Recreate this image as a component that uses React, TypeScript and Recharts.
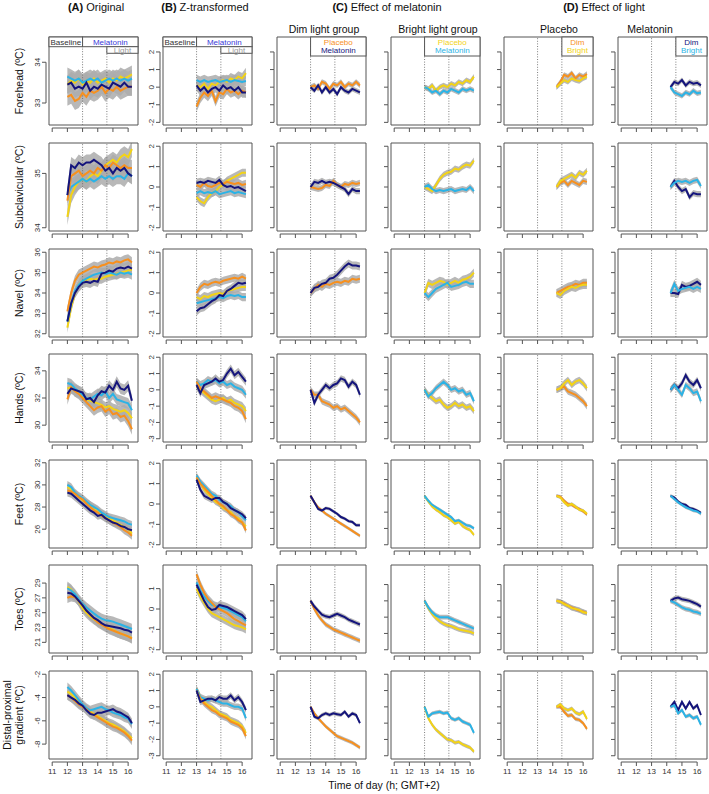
import React from 'react';
import { ComposedChart, Line, Area, XAxis, YAxis, ReferenceLine, ReferenceArea } from 'recharts';

// ---------- time axes ----------
const timesA = [12, 12.25, 12.5, 12.75, 13, 13.25, 13.5, 13.75, 14, 14.25, 14.5, 14.75, 15, 15.25, 15.5, 15.75, 16, 16.25];
const timesZ = [13, 13.25, 13.5, 13.75, 14, 14.25, 14.5, 14.75, 15, 15.25, 15.5, 15.75, 16, 16.25];
const timesD = [14.25, 14.5, 14.75, 15, 15.25, 15.5, 15.75, 16, 16.25];
const xTicks = [11, 12, 13, 14, 15, 16];
const phaseLines = [13, 14.6];

// ---------- Forehead ----------
const fhA_dp = [33.15, 33.2, 33.05, 33.1, 33.25, 33.15, 33.3, 33.25, 33.3, 33.4, 33.25, 33.35, 33.3, 33.4, 33.3, 33.35, 33.4, 33.4];
const fhA_dm = [33.45, 33.5, 33.35, 33.4, 33.35, 33.5, 33.3, 33.4, 33.35, 33.45, 33.4, 33.35, 33.5, 33.45, 33.4, 33.5, 33.4, 33.4];
const fhA_bp = [33.45, 33.55, 33.5, 33.6, 33.45, 33.55, 33.5, 33.6, 33.5, 33.55, 33.6, 33.5, 33.6, 33.55, 33.65, 33.6, 33.65, 33.7];
const fhA_bm = [33.65, 33.6, 33.55, 33.6, 33.5, 33.55, 33.6, 33.55, 33.6, 33.5, 33.55, 33.6, 33.55, 33.6, 33.55, 33.6, 33.55, 33.6];
const fhB_dp = [-1.1, -0.6, -0.3, -0.5, -0.2, -0.8, -0.3, -0.4, -0.1, -0.3, -0.2, -0.4, -0.2, -0.3];
const fhB_dm = [0.1, -0.2, 0.0, -0.3, -0.1, 0.0, -0.2, 0.1, -0.1, 0.0, -0.2, 0.0, -0.3, -0.3];
const fhB_bp = [0.1, 0.0, 0.2, -0.1, 0.2, 0.1, 0.3, 0.4, 0.3, 0.5, 0.4, 0.6, 0.5, 0.8];
const fhB_bm = [0.4, 0.3, 0.4, 0.3, 0.35, 0.4, 0.3, 0.35, 0.4, 0.3, 0.4, 0.35, 0.3, 0.35];
const fhC_dp = [0, 0.1, -0.1, 0.3, 0.2, -0.1, 0.2, 0.1, 0.3, 0.0, 0.2, 0.1, 0.3, 0.1];
const fhC_dm = [0, -0.2, 0.1, -0.3, 0.0, -0.3, -0.1, -0.4, 0.0, -0.2, -0.3, -0.1, -0.2, -0.3];
const fhC_bp = [0, -0.1, 0.1, -0.2, 0.0, 0.1, 0.0, 0.2, 0.1, 0.3, 0.2, 0.4, 0.3, 0.6];
const fhC_bm = [0, -0.1, -0.3, -0.2, -0.4, -0.2, -0.3, -0.1, -0.2, -0.3, -0.1, -0.2, -0.1, -0.2];
const fhD_dp = [0, 0.3, 0.7, 0.6, 0.8, 0.5, 0.7, 0.6, 0.75];
const fhD_bp = [0, 0.2, 0.4, 0.3, 0.5, 0.4, 0.35, 0.5, 0.6];
const fhD_dm = [0, 0.3, 0.2, 0.4, 0.1, 0.3, 0.2, 0.25, 0.1];
const fhD_bm = [0, -0.3, -0.4, -0.5, -0.3, -0.4, -0.2, -0.35, -0.3];

// ---------- Subclavicular ----------
const scA_dp = [34.5, 34.95, 35.0, 35.05, 34.95, 35.0, 35.05, 35.0, 35.1, 35.05, 35.15, 35.1, 35.2, 35.15, 35.1, 35.15, 35.1, 35.1];
const scA_dm = [34.6, 35.15, 35.1, 35.2, 35.15, 35.2, 35.2, 35.25, 35.2, 35.15, 35.05, 35.1, 35.0, 35.1, 35.05, 35.1, 35.0, 34.95];
const scA_bp = [34.2, 34.6, 34.75, 34.85, 34.9, 34.85, 34.95, 35.0, 34.95, 35.05, 35.15, 35.2, 35.25, 35.2, 35.3, 35.35, 35.3, 35.45];
const scA_bm = [34.6, 34.75, 34.8, 34.85, 34.9, 34.85, 34.9, 34.85, 34.9, 34.95, 34.9, 34.95, 34.9, 34.95, 34.95, 34.9, 35.0, 34.95];
const scB_dp = [0.1, 0.0, 0.2, 0.05, 0.0, 0.1, 0.2, 0.15, 0.25, 0.2, 0.15, 0.2, 0.1, 0.15];
const scB_dm = [0.2, 0.25, 0.2, 0.3, 0.25, 0.2, 0.35, 0.1, 0.0, 0.05, -0.05, 0.0, -0.1, -0.2];
const scB_bp = [-0.5, -0.7, -0.8, -0.5, -0.3, -0.2, 0.0, 0.1, 0.3, 0.4, 0.5, 0.6, 0.7, 0.7];
const scB_bm = [-0.3, -0.2, -0.3, -0.25, -0.3, -0.2, -0.35, -0.3, -0.25, -0.2, -0.3, -0.25, -0.3, -0.35];
const scC_dp = [0, -0.05, -0.1, -0.05, 0.1, 0.05, 0.3, 0.1, 0.0, 0.15, 0.1, 0.2, 0.15, 0.2];
const scC_dm = [0, 0.25, 0.2, 0.3, 0.2, 0.25, 0.2, 0.1, 0.0, -0.1, -0.35, -0.1, -0.2, -0.2];
const scC_bp = [0, -0.1, -0.2, 0.1, 0.4, 0.6, 0.7, 0.75, 0.9, 0.85, 1.0, 1.1, 1.05, 1.3];
const scC_bm = [0, 0.1, -0.1, -0.2, -0.15, -0.2, -0.15, -0.1, -0.2, -0.15, -0.1, -0.15, 0.0, -0.2];
const scD_dp = [0, 0.2, 0.3, 0.1, 0.3, 0.2, 0.1, 0.3, 0.25];
const scD_bp = [0, 0.3, 0.4, 0.5, 0.6, 0.45, 0.7, 0.6, 0.8];
const scD_dm = [0, 0.3, 0.0, -0.2, -0.1, -0.5, -0.3, -0.35, -0.35];
const scD_bm = [0, 0.2, 0.3, 0.25, 0.3, 0.2, 0.3, 0.35, 0.05];

// ---------- Navel ----------
const nvA_dp = [33.1, 34.0, 34.6, 34.9, 35.0, 35.1, 35.2, 35.3, 35.25, 35.35, 35.4, 35.5, 35.45, 35.55, 35.5, 35.6, 35.65, 35.5];
const nvA_dm = [32.6, 33.5, 34.0, 34.3, 34.5, 34.55, 34.5, 34.6, 34.55, 34.95, 35.0, 35.1, 35.05, 35.2, 35.25, 35.2, 35.3, 35.2];
const nvA_bp = [32.3, 33.3, 34.0, 34.4, 34.6, 34.65, 34.7, 34.65, 34.7, 34.7, 34.8, 34.85, 34.9, 34.95, 35.0, 35.05, 35.1, 35.15];
const nvA_bm = [32.6, 33.5, 34.1, 34.4, 34.6, 34.7, 34.8, 34.9, 34.95, 35.0, 34.95, 35.0, 34.95, 34.9, 35.0, 34.95, 35.0, 34.9];
const nvB_dp = [0.0, 0.3, 0.45, 0.4, 0.5, 0.55, 0.5, 0.6, 0.65, 0.7, 0.75, 0.7, 0.8, 0.7];
const nvB_dm = [-0.9, -0.75, -0.7, -0.55, -0.4, -0.3, -0.1, -0.15, 0.1, 0.2, 0.35, 0.5, 0.45, 0.5];
const nvB_bp = [-0.2, -0.3, -0.15, -0.2, -0.1, -0.05, 0.0, -0.05, 0.1, 0.15, 0.2, 0.25, 0.3, 0.3];
const nvB_bm = [-0.5, -0.45, -0.4, -0.35, -0.3, -0.25, -0.2, -0.25, -0.15, -0.1, -0.15, -0.1, -0.2, -0.2];
const nvC_dp = [0, 0.2, 0.4, 0.3, 0.45, 0.4, 0.5, 0.55, 0.5, 0.6, 0.55, 0.7, 0.65, 0.7];
const nvC_dm = [0, 0.25, 0.3, 0.45, 0.5, 0.7, 0.75, 0.9, 1.1, 1.3, 1.45, 1.35, 1.35, 1.3];
const nvC_bp = [0, 0.5, 0.4, 0.5, 0.6, 0.55, 0.4, 0.5, 0.6, 0.5, 0.65, 0.7, 0.8, 1.0];
const nvC_bm = [0, -0.2, 0.0, 0.2, 0.3, 0.4, 0.5, 0.3, 0.35, 0.4, 0.5, 0.55, 0.45, 0.45];
const nvD_dp = [0, 0.1, 0.2, 0.3, 0.35, 0.45, 0.4, 0.5, 0.5];
const nvD_bp = [0, -0.1, 0.1, 0.2, 0.3, 0.25, 0.35, 0.4, 0.4];
const nvD_dm = [0, 0.0, -0.05, 0.4, 0.3, 0.35, 0.45, 0.55, 0.4];
const nvD_bm = [0, 0.45, 0.1, 0.2, 0.25, 0.3, 0.2, 0.3, 0.2];

// ---------- Hands ----------
const hdA_dp = [31.9, 32.8, 32.5, 32.3, 32.0, 31.7, 31.4, 31.1, 31.3, 31.4, 31.0, 31.2, 30.8, 30.9, 30.6, 30.7, 30.3, 29.7];
const hdA_dm = [32.3, 32.7, 32.6, 32.5, 32.4, 31.9, 32.0, 31.7, 32.2, 32.5, 32.4, 32.9, 32.6, 33.2, 32.7, 32.6, 32.9, 31.8];
const hdA_bp = [32.7, 32.8, 32.5, 32.4, 32.2, 31.9, 31.8, 31.7, 31.6, 31.5, 31.3, 31.4, 31.2, 31.1, 31.0, 31.1, 30.9, 30.5];
const hdA_bm = [33.1, 33.0, 32.7, 32.5, 32.2, 32.0, 31.9, 32.1, 32.3, 32.2, 32.5, 32.0, 32.3, 31.9, 31.8, 31.7, 31.6, 31.1];
const hdB_dp = [0.5, 0.1, -0.1, -0.3, -0.5, -0.4, -0.5, -0.6, -0.7, -0.8, -1.0, -1.1, -1.3, -1.8];
const hdB_dm = [0.3, -0.2, 0.3, 0.4, 0.5, 0.7, 0.5, 0.6, 1.0, 1.3, 0.9, 1.1, 0.8, 0.5];
const hdB_bp = [0.2, 0.0, -0.2, -0.4, -0.6, -0.7, -0.6, -0.5, -0.7, -0.6, -0.8, -0.9, -1.0, -1.3];
const hdB_bm = [0.5, 0.3, 0.4, 0.6, 0.5, 0.6, 0.4, 0.5, 0.3, 0.4, 0.2, 0.1, 0.0, -0.3];
const hdC_dp = [0, -0.3, -0.3, -0.7, -0.8, -0.9, -1.1, -1.0, -1.2, -1.1, -1.3, -1.5, -1.7, -2.0];
const hdC_dm = [0, -0.8, -0.3, 0.0, 0.3, 0.1, 0.3, 0.4, 0.7, 0.6, 0.2, 0.5, 0.3, -0.3];
const hdC_bp = [0, -0.3, -0.5, -0.7, -0.6, -0.9, -1.1, -1.0, -0.8, -1.0, -0.9, -1.1, -1.0, -1.3];
const hdC_bm = [0, -0.4, -0.2, 0.1, 0.3, 0.5, 0.3, 0.0, 0.1, -0.1, 0.0, -0.3, -0.2, -0.7];
const hdD_dp = [0, 0.1, 0.2, -0.1, -0.2, -0.3, -0.5, -0.7, -1.0];
const hdD_bp = [0, 0.1, 0.4, 0.6, 0.3, 0.5, 0.6, 0.4, 0.1];
const hdD_dm = [0, 0.3, 0.1, 0.4, 0.9, 0.5, 0.3, 0.6, 0.1];
const hdD_bm = [0, 0.3, 0.0, -0.3, 0.3, 0.1, -0.2, -0.1, -0.7];

// ---------- Feet ----------
const ftA_dp = [29.5, 29.4, 29.2, 28.9, 28.7, 28.3, 28.0, 27.7, 27.5, 27.2, 27.0, 26.8, 26.6, 26.4, 26.2, 25.9, 25.7, 25.4];
const ftA_dm = [29.3, 29.2, 28.9, 28.6, 28.3, 28.0, 27.7, 27.5, 27.2, 27.3, 27.0, 26.8, 26.6, 26.5, 26.3, 26.2, 26.0, 25.9];
const ftA_bp = [29.8, 29.6, 29.2, 28.9, 28.6, 28.4, 28.2, 27.9, 27.7, 27.4, 27.2, 27.0, 26.8, 26.6, 26.4, 26.2, 26.0, 25.6];
const ftA_bm = [30.0, 29.8, 29.3, 29.0, 28.8, 28.5, 28.2, 28.0, 27.8, 27.5, 27.3, 27.1, 27.0, 26.9, 26.8, 26.7, 26.5, 26.4];
const ftB_dp = [1.3, 1.0, 0.8, 0.6, 0.4, 0.2, 0.0, -0.1, -0.3, -0.5, -0.6, -0.8, -0.9, -1.3];
const ftB_dm = [1.2, 0.7, 0.4, 0.3, 0.2, 0.3, 0.3, 0.1, 0.0, -0.2, -0.3, -0.4, -0.5, -0.7];
const ftB_bp = [1.3, 1.0, 0.7, 0.5, 0.3, 0.1, 0.0, -0.2, -0.3, -0.4, -0.6, -0.7, -0.9, -1.1];
const ftB_bm = [1.4, 1.1, 0.9, 0.7, 0.5, 0.4, 0.2, 0.1, 0.0, -0.1, -0.3, -0.4, -0.6, -0.8];
const ftC_dp = [0, -0.4, -0.7, -0.9, -1.1, -1.25, -1.4, -1.55, -1.7, -1.85, -2.0, -2.15, -2.3, -2.45];
const ftC_dm = [0, -0.4, -0.8, -0.9, -0.75, -0.8, -0.95, -1.1, -1.3, -1.4, -1.55, -1.6, -1.8, -1.8];
const ftC_bp = [0, -0.35, -0.65, -0.85, -1.0, -1.2, -1.3, -1.5, -1.7, -1.6, -1.85, -2.0, -2.1, -2.4];
const ftC_bm = [0, -0.3, -0.55, -0.7, -0.85, -1.0, -1.15, -1.3, -1.55, -1.5, -1.65, -1.8, -1.85, -2.0];
const ftD_dp = [0, -0.05, -0.3, -0.5, -0.55, -0.7, -0.8, -0.95, -1.15];
const ftD_bp = [0, -0.1, -0.4, -0.6, -0.5, -0.65, -0.85, -0.9, -1.1];
const ftD_dm = [0, -0.1, -0.35, -0.5, -0.55, -0.75, -0.8, -0.9, -1.05];
const ftD_bm = [0, -0.2, -0.4, -0.55, -0.7, -0.8, -0.9, -0.95, -1.1];

// ---------- Toes ----------
const teA_dp = [27.0, 27.2, 27.1, 26.6, 26.0, 25.3, 24.7, 24.2, 23.7, 23.4, 23.1, 22.8, 22.6, 22.4, 22.2, 22.0, 21.8, 21.5];
const teA_dm = [27.7, 27.6, 27.2, 26.6, 26.0, 25.3, 24.8, 24.3, 24.0, 23.6, 23.3, 23.2, 23.1, 23.0, 22.9, 22.7, 22.6, 22.3];
const teA_bp = [28.5, 28.1, 27.4, 26.5, 25.6, 25.0, 24.5, 24.1, 23.8, 23.5, 23.2, 22.9, 22.7, 22.4, 22.2, 22.0, 21.8, 21.6];
const teA_bm = [28.3, 28.0, 27.5, 26.8, 26.2, 25.7, 25.3, 24.9, 24.5, 24.2, 24.0, 23.9, 23.8, 23.6, 23.4, 23.2, 23.0, 22.8];
const teB_dp = [1.7, 1.2, 0.8, 0.5, 0.3, 0.1, 0.0, -0.1, -0.2, -0.35, -0.5, -0.6, -0.7, -0.8];
const teB_dm = [1.2, 0.8, 0.4, 0.1, -0.05, 0.0, 0.2, 0.15, 0.1, 0.0, -0.1, -0.2, -0.3, -0.5];
const teB_bp = [1.0, 0.6, 0.3, 0.0, -0.2, -0.3, -0.4, -0.5, -0.6, -0.7, -0.8, -0.85, -0.9, -1.0];
const teB_bm = [1.3, 0.9, 0.6, 0.4, 0.2, 0.15, 0.1, 0.05, 0.0, -0.1, -0.2, -0.3, -0.4, -0.6];
const teC_dp = [0, -0.5, -0.9, -1.2, -1.45, -1.6, -1.75, -1.85, -1.95, -2.05, -2.15, -2.25, -2.35, -2.45];
const teC_dm = [0, -0.35, -0.6, -0.85, -0.95, -1.0, -0.9, -0.8, -0.9, -1.0, -1.15, -1.25, -1.35, -1.45];
const teC_bp = [0, -0.45, -0.8, -1.05, -1.25, -1.4, -1.5, -1.55, -1.65, -1.75, -1.8, -1.85, -1.9, -2.0];
const teC_bm = [0, -0.4, -0.7, -0.9, -1.0, -1.0, -1.0, -1.1, -1.2, -1.3, -1.4, -1.5, -1.6, -1.7];
const teD_dp = [0, -0.05, -0.15, -0.3, -0.4, -0.5, -0.6, -0.65, -0.75];
const teD_bp = [0, -0.05, -0.2, -0.3, -0.45, -0.5, -0.55, -0.7, -0.75];
const teD_dm = [0, 0.15, 0.2, 0.1, 0.05, 0.0, -0.1, -0.2, -0.35];
const teD_bm = [0, -0.1, -0.25, -0.4, -0.5, -0.55, -0.65, -0.7, -0.8];

// ---------- Distal-proximal gradient ----------
const dgA_dp = [-3.8, -4.0, -4.3, -4.6, -4.8, -5.0, -5.3, -5.5, -5.7, -5.9, -6.1, -6.3, -6.5, -6.6, -6.8, -7.0, -7.3, -7.7];
const dgA_dm = [-3.8, -4.0, -4.2, -4.5, -4.7, -5.1, -5.4, -5.5, -5.3, -5.3, -5.2, -5.1, -5.0, -5.2, -5.3, -5.5, -5.7, -6.2];
const dgA_bp = [-3.5, -3.7, -4.0, -4.4, -4.7, -5.0, -5.2, -5.4, -5.6, -5.8, -6.0, -6.2, -6.3, -6.5, -6.7, -6.9, -7.2, -7.5];
const dgA_bm = [-3.1, -3.4, -3.8, -4.2, -4.6, -4.9, -5.1, -5.0, -4.9, -4.8, -5.0, -5.1, -5.3, -5.4, -5.5, -5.7, -5.8, -6.3];
const dgB_dp = [1.0, 0.5, 0.2, 0.0, -0.2, -0.3, -0.5, -0.6, -0.7, -0.9, -1.0, -1.1, -1.3, -1.8];
const dgB_dm = [1.0, 0.3, 0.4, 0.5, 0.5, 0.4, 0.6, 0.5, 0.5, 0.7, 0.4, 0.6, 0.3, -0.2];
const dgB_bp = [1.1, 0.6, 0.3, 0.1, 0.0, -0.2, -0.4, -0.5, -0.6, -0.8, -0.9, -1.0, -1.2, -1.6];
const dgB_bm = [1.1, 0.6, 0.5, 0.4, 0.5, 0.4, 0.3, 0.2, 0.2, 0.1, 0.0, 0.0, -0.1, -0.7];
const dgC_dp = [0, -0.4, -0.7, -0.95, -1.2, -1.4, -1.6, -1.8, -1.9, -2.0, -2.1, -2.2, -2.35, -2.5];
const dgC_dm = [0, -0.6, -0.7, -0.5, -0.4, -0.5, -0.4, -0.45, -0.5, -0.3, -0.6, -0.4, -0.5, -1.0];
const dgC_bp = [0, -0.7, -1.1, -1.4, -1.6, -1.8, -2.0, -2.05, -2.2, -2.15, -2.3, -2.4, -2.5, -2.75];
const dgC_bm = [0, -0.6, -0.4, -0.35, -0.3, -0.4, -0.35, -0.7, -0.8, -0.7, -0.9, -1.0, -1.1, -1.6];
const dgD_dp = [0, 0.0, -0.3, -0.55, -0.5, -0.75, -0.8, -1.0, -1.35];
const dgD_bp = [0, 0.15, -0.1, -0.2, -0.1, -0.35, -0.45, -0.3, -0.75];
const dgD_dm = [0, 0.3, -0.2, 0.3, -0.1, 0.3, -0.1, 0.1, -0.5];
const dgD_bm = [0, 0.1, -0.4, -0.2, -0.6, -0.5, -0.7, -0.6, -1.1];

// ---------- labels ----------
const rowLabels = [['Forehead (ºC)'], ['Subclavicular (ºC)'], ['Navel (ºC)'], ['Hands (ºC)'], ['Feet (ºC)'], ['Toes (ºC)'], ['Distal-proximal', 'gradient (ºC)']];

// y axis settings per row
const yDomA: [number, number][] = [[32.46, 34.62], [33.94, 35.56], [31.84, 36.16], [28.76, 35.24], [24.3, 32.25], [19.56, 31.44], [-9.28, -1.72]];
const yTicksA = [[33, 34], [34, 35], [32, 33, 34, 35, 36], [30, 32, 34], [26, 28, 30, 32], [21, 23, 25, 27, 29], [-8, -6, -4, -2]];
const yDomB: [number, number][] = [[-2.15, 2.85], [-2.16, 2.16], [-2.16, 2.16], [-3.2, 2.2], [-2.16, 2.16], [-2.16, 2.16], [-3.2, 2.2]];
const yTicksB = [[-2, -1, 0, 1, 2], [-2, -1, 0, 1, 2], [-2, -1, 0, 1, 2], [-3, -2, -1, 0, 1, 2], [-2, -1, 0, 1, 2], [-2, -1, 0, 1], [-3, -2, -1, 0, 1, 2]];
const yDomCD: [number, number][] = [[-2.15, 2.85], [-2.16, 2.16], [-2.16, 2.16], [-3.2, 2.2], [-3.2, 2.2], [-3.2, 2.2], [-3.2, 2.2]];
const yTicksCD = [[-2, -1, 0, 1, 2], [-2, -1, 0, 1, 2], [-2, -1, 0, 1, 2], [-3, -2, -1, 0, 1, 2], [-3, -2, -1, 0, 1, 2], [-3, -2, -1, 0, 1], [-3, -2, -1, 0, 1, 2]];

// ribbon half-widths per row
const bandA = [0.22, 0.15, 0.25, 0.4, 0.35, 0.7, 0.4];
const bandB = [0.3, 0.2, 0.2, 0.25, 0.15, 0.2, 0.2];
const bandCD = [0.15, 0.15, 0.2, 0.2, 0.1, 0.15, 0.12];

// ---------- styles / layout ----------
const COLORS: Record<string, string> = { dp: '#F7901E', dm: '#14147C', bp: '#F3D316', bm: '#2BB3E6' };
const BAND = '#ABABAB';
const AXIS = '#555555';
const FONT = '"Liberation Sans", Arial, Helvetica, sans-serif';
const BOX_W = 89;
const BOX_H = 88;
const X_DOM: [number, number] = [10.79, 16.65];
const colLeft = [49, 163, 277, 391, 504, 618];
const rowTop = [37, 143, 249, 354, 460, 565, 671];
const AX_GAP = 3;
const TICK = 4;
const Y_AXIS_W = 40;
const X_AXIS_H = 24;

type Key = 'dp' | 'dm' | 'bp' | 'bm';
interface PanelDef {
  row: number;
  col: number;
  times: number[];
  series: { key: Key; values: number[] }[];
  yDom: [number, number];
  yTicks: number[];
  band: number;
}

const rowSets = [
  { A: [fhA_dp, fhA_dm, fhA_bp, fhA_bm], B: [fhB_dp, fhB_dm, fhB_bp, fhB_bm], C: [fhC_dp, fhC_dm, fhC_bp, fhC_bm], D: [fhD_dp, fhD_dm, fhD_bp, fhD_bm] },
  { A: [scA_dp, scA_dm, scA_bp, scA_bm], B: [scB_dp, scB_dm, scB_bp, scB_bm], C: [scC_dp, scC_dm, scC_bp, scC_bm], D: [scD_dp, scD_dm, scD_bp, scD_bm] },
  { A: [nvA_dp, nvA_dm, nvA_bp, nvA_bm], B: [nvB_dp, nvB_dm, nvB_bp, nvB_bm], C: [nvC_dp, nvC_dm, nvC_bp, nvC_bm], D: [nvD_dp, nvD_dm, nvD_bp, nvD_bm] },
  { A: [hdA_dp, hdA_dm, hdA_bp, hdA_bm], B: [hdB_dp, hdB_dm, hdB_bp, hdB_bm], C: [hdC_dp, hdC_dm, hdC_bp, hdC_bm], D: [hdD_dp, hdD_dm, hdD_bp, hdD_bm] },
  { A: [ftA_dp, ftA_dm, ftA_bp, ftA_bm], B: [ftB_dp, ftB_dm, ftB_bp, ftB_bm], C: [ftC_dp, ftC_dm, ftC_bp, ftC_bm], D: [ftD_dp, ftD_dm, ftD_bp, ftD_bm] },
  { A: [teA_dp, teA_dm, teA_bp, teA_bm], B: [teB_dp, teB_dm, teB_bp, teB_bm], C: [teC_dp, teC_dm, teC_bp, teC_bm], D: [teD_dp, teD_dm, teD_bp, teD_bm] },
  { A: [dgA_dp, dgA_dm, dgA_bp, dgA_bm], B: [dgB_dp, dgB_dm, dgB_bp, dgB_bm], C: [dgC_dp, dgC_dm, dgC_bp, dgC_bm], D: [dgD_dp, dgD_dm, dgD_bp, dgD_bm] },
];

const panels: PanelDef[] = [];
rowSets.forEach((s, r) => {
  const [Adp, Adm, Abp, Abm] = s.A;
  const [Bdp, Bdm, Bbp, Bbm] = s.B;
  const [Cdp, Cdm, Cbp, Cbm] = s.C;
  const [Ddp, Ddm, Dbp, Dbm] = s.D;
  panels.push({ row: r, col: 0, times: timesA, series: [{ key: 'bp', values: Abp }, { key: 'bm', values: Abm }, { key: 'dp', values: Adp }, { key: 'dm', values: Adm }], yDom: yDomA[r], yTicks: yTicksA[r], band: bandA[r] });
  panels.push({ row: r, col: 1, times: timesZ, series: [{ key: 'bp', values: Bbp }, { key: 'bm', values: Bbm }, { key: 'dp', values: Bdp }, { key: 'dm', values: Bdm }], yDom: yDomB[r], yTicks: yTicksB[r], band: bandB[r] });
  panels.push({ row: r, col: 2, times: timesZ, series: [{ key: 'dp', values: Cdp }, { key: 'dm', values: Cdm }], yDom: yDomCD[r], yTicks: yTicksCD[r], band: bandCD[r] });
  panels.push({ row: r, col: 3, times: timesZ, series: [{ key: 'bp', values: Cbp }, { key: 'bm', values: Cbm }], yDom: yDomCD[r], yTicks: yTicksCD[r], band: bandCD[r] });
  panels.push({ row: r, col: 4, times: timesD, series: [{ key: 'dp', values: Ddp }, { key: 'bp', values: Dbp }], yDom: yDomCD[r], yTicks: yTicksCD[r], band: bandCD[r] });
  panels.push({ row: r, col: 5, times: timesD, series: [{ key: 'dm', values: Ddm }, { key: 'bm', values: Dbm }], yDom: yDomCD[r], yTicks: yTicksCD[r], band: bandCD[r] });
});

const xSpacing = BOX_W / (X_DOM[1] - X_DOM[0]);
const xPx = (col: number, t: number) => colLeft[col] + (t - X_DOM[0]) * xSpacing;

function Panel({ p }: { p: PanelDef }) {
  const data = p.times.map((t, i) => {
    const row: any = { t };
    p.series.forEach((s) => {
      const v = s.values[i];
      row[s.key] = v;
      row[s.key + '_band'] = [v - p.band, v + p.band];
    });
    return row;
  });
  const showX = p.row === 6;
  const showY = p.col <= 1;
  const ySp = (BOX_H / (p.yDom[1] - p.yDom[0])) * (p.yTicks[1] - p.yTicks[0]);
  const yTop = p.yTicks[p.yTicks.length - 1];

  const xTick = (props: any) => {
    const { x, y, payload } = props;
    const v = payload.value;
    const ay = y + AX_GAP;
    return (
      <g>
        {v < 16 && <line x1={x} y1={ay} x2={x + xSpacing} y2={ay} stroke={AXIS} strokeWidth={1} />}
        <line x1={x} y1={ay} x2={x} y2={ay + TICK} stroke={AXIS} strokeWidth={1} />
        {showX && (
          <text x={x} y={ay + TICK + 8} textAnchor="middle" fontSize={8} fill="#333" fontFamily={FONT}>
            {v}
          </text>
        )}
      </g>
    );
  };
  const yTick = (props: any) => {
    const { x, y, payload } = props;
    const v = payload.value;
    const ax = x - AX_GAP;
    const lx = ax - TICK - 2;
    return (
      <g>
        {v < yTop && <line x1={ax} y1={y} x2={ax} y2={y - ySp} stroke={AXIS} strokeWidth={1} />}
        <line x1={ax} y1={y} x2={ax - TICK} y2={y} stroke={AXIS} strokeWidth={1} />
        {showY && (
          <text x={lx} y={y} transform={`rotate(-90 ${lx} ${y})`} textAnchor="middle" fontSize={8} fill="#333" fontFamily={FONT}>
            {v}
          </text>
        )}
      </g>
    );
  };

  return (
    <div style={{ position: 'absolute', left: colLeft[p.col] - Y_AXIS_W, top: rowTop[p.row] - 1 }}>
      <ComposedChart width={Y_AXIS_W + BOX_W + 2} height={1 + BOX_H + X_AXIS_H} data={data} margin={{ top: 1, right: 2, bottom: 0, left: 0 }}>
        <XAxis type="number" dataKey="t" domain={X_DOM} ticks={xTicks} allowDataOverflow interval={0} height={X_AXIS_H} axisLine={false} tickLine={false} tickSize={0} tickMargin={0} tick={xTick} />
        <YAxis type="number" domain={p.yDom} ticks={p.yTicks} allowDataOverflow interval={0} width={Y_AXIS_W} axisLine={false} tickLine={false} tickSize={0} tickMargin={0} tick={yTick} />
        {p.series.map((s) => (
          <Area key={'b' + s.key} type="linear" dataKey={s.key + '_band'} stroke="none" fill={BAND} fillOpacity={0.85} dot={false} activeDot={false} isAnimationActive={false} />
        ))}
        {phaseLines.map((t) => (
          <ReferenceLine key={t} x={t} stroke="#6f6f6f" strokeWidth={0.9} strokeDasharray="1 1.6" />
        ))}
        {p.series.map((s) => (
          <Line key={'l' + s.key} type="linear" dataKey={s.key} stroke={COLORS[s.key]} strokeWidth={2} dot={false} activeDot={false} isAnimationActive={false} />
        ))}
        <ReferenceArea x1={X_DOM[0]} x2={X_DOM[1]} y1={p.yDom[0]} y2={p.yDom[1]} fill="none" stroke={AXIS} strokeWidth={1} />
      </ComposedChart>
    </div>
  );
}

function Legends() {
  const els: React.ReactNode[] = [];
  const top = rowTop[0];
  // A and B header
  [0, 1].forEach((c) => {
    const x0 = colLeft[c];
    const x1 = colLeft[c] + BOX_W;
    const x13 = xPx(c, 13);
    const x146 = xPx(c, 14.6);
    els.push(
      <g key={'h' + c}>
        <rect x={x0} y={top} width={x13 - x0} height={9.7} fill="#fff" stroke={AXIS} strokeWidth={1} />
        <rect x={x13} y={top} width={x1 - x13} height={9.7} fill="#fff" stroke={AXIS} strokeWidth={1} />
        <rect x={x146} y={top + 9.7} width={x1 - x146} height={6.6} fill="#fff" stroke={AXIS} strokeWidth={1} />
        <text x={(x0 + x13) / 2} y={top + 7.8} textAnchor="middle" fontSize={8} fill="#333">Baseline</text>
        <text x={(x13 + x1) / 2} y={top + 7.8} textAnchor="middle" fontSize={8} fill="#3A3AD8">Melatonin</text>
        <text x={(x146 + x1) / 2} y={top + 15.8} textAnchor="middle" fontSize={8} fill="#9a9a9a">Light</text>
      </g>
    );
  });
  const boxes = [
    { c: 2, t: 13, l1: 'Placebo', c1: COLORS.dp, l2: 'Melatonin', c2: COLORS.dm },
    { c: 3, t: 13, l1: 'Placebo', c1: COLORS.bp, l2: 'Melatonin', c2: COLORS.bm },
    { c: 4, t: 14.6, l1: 'Dim', c1: COLORS.dp, l2: 'Bright', c2: COLORS.bp },
    { c: 5, t: 14.6, l1: 'Dim', c1: COLORS.dm, l2: 'Bright', c2: COLORS.bm },
  ];
  boxes.forEach((b) => {
    const xs = xPx(b.c, b.t);
    const x1 = colLeft[b.c] + BOX_W;
    els.push(
      <g key={'l' + b.c}>
        <rect x={xs} y={top} width={x1 - xs} height={19} fill="#fff" stroke={AXIS} strokeWidth={1} />
        <text x={(xs + x1) / 2} y={top + 8} textAnchor="middle" fontSize={8} fill={b.c1}>{b.l1}</text>
        <text x={(xs + x1) / 2} y={top + 16.3} textAnchor="middle" fontSize={8} fill={b.c2}>{b.l2}</text>
      </g>
    );
  });
  return <>{els}</>;
}

export default function App() {
  return (
    <div style={{ position: 'absolute', left: 0, top: 0, width: 709, height: 794, background: '#fff', fontFamily: FONT, overflow: 'hidden' }}>
      {panels.map((p) => (
        <Panel key={p.row + '-' + p.col} p={p} />
      ))}
      <svg width={709} height={794} style={{ position: 'absolute', left: 0, top: 0, pointerEvents: 'none' }} fontFamily={FONT}>
        <Legends />
        {/* column titles */}
        <text x={96} y={10.5} textAnchor="middle" fontSize={11} fill="#111"><tspan fontWeight="bold">(A)</tspan><tspan> Original</tspan></text>
        <text x={205} y={10.5} textAnchor="middle" fontSize={11} fill="#111"><tspan fontWeight="bold">(B)</tspan><tspan> Z-transformed</tspan></text>
        <text x={387} y={10.5} textAnchor="middle" fontSize={11} fill="#111"><tspan fontWeight="bold">(C)</tspan><tspan> Effect of melatonin</tspan></text>
        <text x={604} y={10.5} textAnchor="middle" fontSize={11} fill="#111"><tspan fontWeight="bold">(D)</tspan><tspan> Effect of light</tspan></text>
        <text x={324} y={32.5} textAnchor="middle" fontSize={10.5} fill="#111">Dim light group</text>
        <text x={438} y={32.5} textAnchor="middle" fontSize={10.5} fill="#111">Bright light group</text>
        <text x={559} y={32.5} textAnchor="middle" fontSize={10.5} fill="#111">Placebo</text>
        <text x={650} y={32.5} textAnchor="middle" fontSize={10.5} fill="#111">Melatonin</text>
        {/* row labels */}
        {rowLabels.map((lines, r) => {
          const cy = rowTop[r] + BOX_H / 2;
          if (lines.length === 1) {
            return (
              <text key={r} x={23} y={cy} transform={`rotate(-90 23 ${cy})`} textAnchor="middle" fontSize={10.5} fill="#111">{lines[0]}</text>
            );
          }
          return (
            <g key={r}>
              <text x={10.5} y={cy} transform={`rotate(-90 10.5 ${cy})`} textAnchor="middle" fontSize={10.5} fill="#111">{lines[0]}</text>
              <text x={23} y={cy} transform={`rotate(-90 23 ${cy})`} textAnchor="middle" fontSize={10.5} fill="#111">{lines[1]}</text>
            </g>
          );
        })}
        <text x={384} y={789} textAnchor="middle" fontSize={10.5} fill="#111">Time of day (h; GMT+2)</text>
      </svg>
    </div>
  );
}
